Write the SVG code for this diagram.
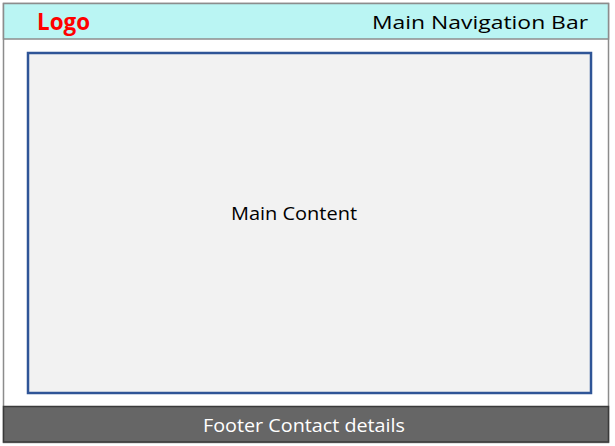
<svg xmlns="http://www.w3.org/2000/svg" width="615" height="446" viewBox="0 0 615 446">
<style>
text{font-family:"Open Sans","Noto Sans","Liberation Sans",sans-serif;}
.lbl{font-size:19px;fill:#000;}
</style>
<rect x="0" y="0" width="615" height="446" fill="#fff"/>
<g id="page">
<rect x="3.5" y="3.5" width="605" height="439" fill="#fff" stroke="#8c8c8c" stroke-width="1.5"/>
</g>
<g id="header">
<rect x="3.5" y="3.5" width="605" height="35.5" fill="#baf5f3" stroke="#8c8c8c" stroke-width="1.5"/>
<text x="37" y="30" font-size="24" font-weight="bold" fill="#ff0000" textLength="53" lengthAdjust="spacingAndGlyphs">Logo</text>
<text class="lbl" x="372" y="29" textLength="216" lengthAdjust="spacingAndGlyphs">Main Navigation Bar</text>
</g>
<g id="content">
<rect x="28" y="53" width="563" height="340" fill="#f2f2f2" stroke="#2f5597" stroke-width="2.5"/>
<text class="lbl" x="294" y="220" text-anchor="middle" textLength="126" lengthAdjust="spacingAndGlyphs">Main Content</text>
</g>
<g id="footer">
<rect x="3.5" y="406.5" width="605" height="35.5" fill="#666666" stroke="#3a3a3a" stroke-width="1.5"/>
<text class="lbl" x="304" y="432" text-anchor="middle" style="fill:#fff" textLength="202" lengthAdjust="spacingAndGlyphs">Footer Contact details</text>
</g>
<g id="connectors"></g>
</svg>
